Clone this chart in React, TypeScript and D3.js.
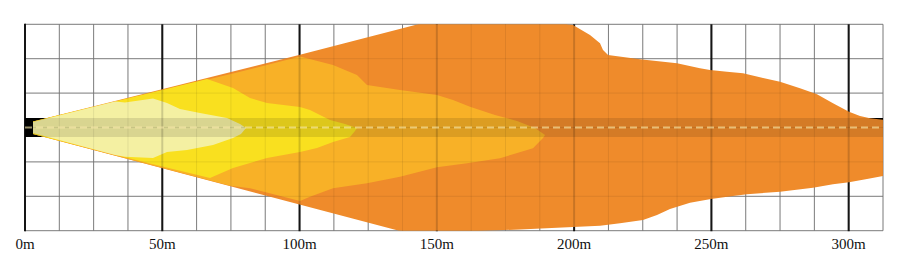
import React from "react";
import * as d3 from "d3";

// ---- data (metres: [distance, lateral]) ----
const distanceTicks = [0, 50, 100, 150, 200, 250, 300];
const tickLabels = ["0m", "50m", "100m", "150m", "200m", "250m", "300m"];
const xMax = 312.5;
const yHalf = 37.5;
const gridStep = 12.5;
const roadHalfWidth = 3.45;

const orangeOutline: [number, number][] = [
  [2.91, 2.18], [100.16, 26.44], [143.14, 37.5], [150, 39.5], [195, 39.5], [197.41, 37.5],
  [199.59, 37.25], [205.78, 33.61], [209.43, 30.6], [210.52, 28.16], [212.35, 26.34],
  [224.0, 24.78], [237.47, 23.33], [245.85, 21.51], [249.49, 20.89], [255.68, 20.28],
  [261.51, 19.69], [267.7, 18.24], [274.99, 16.64], [282.27, 14.24], [288.46, 12.06],
  [294.29, 8.79], [300.12, 5.74], [304.12, 4.18], [307.77, 3.34], [314, 2.6],
  [314, -17.3], [306.67, -18.71], [300.12, -19.91], [294.29, -20.64], [287.0, -21.88],
  [274.99, -23.33], [262.96, -24.27], [257.87, -24.89], [249.85, -25.98], [242.21, -27.33],
  [234.92, -29.61], [230.19, -31.8], [225.09, -33.61], [216.71, -34.81], [209.43, -35.68],
  [199.59, -36.16], [180.29, -37.06], [165, -37.6], [150, -38.5], [136.2, -37.5],
  [2.91, -2.36],
];

const lightOrangeOutline: [number, number][] = [
  [2.91, 2.18], [77.21, 19.99], [100.16, 25.8], [112.18, 22.71], [120.92, 19.08],
  [124.56, 15.44], [136.58, 13.63], [150.06, 11.81], [155.89, 9.99], [162.08, 7.56],
  [171.18, 4.54], [179.2, 2.36], [185.75, -0.18], [189.4, -2.73], [188.67, -3.82],
  [185.02, -7.56], [173.0, -11.19], [160.98, -13.01], [150.06, -14.46], [136.58, -17.88],
  [124.56, -20.28], [112.18, -22.09], [103.8, -25.15], [100.16, -26.71], [81.95, -22.09],
  [74.67, -21.2], [2.91, -2.36],
];

const yellowOutline: [number, number][] = [
  [2.91, 2.18], [66.29, 17.6], [75.76, 14.35], [81.95, 10.72], [88.14, 8.9],
  [100.16, 7.45], [103.8, 6.36], [107.44, 4.54], [111.09, 2.73], [116.55, 1.27],
  [120.92, -0.18], [120.19, -1.27], [118.37, -3.45], [112.18, -5.27], [106.35, -7.45],
  [100.16, -8.9], [88.14, -11.08], [75.76, -14.72], [67.38, -18.35], [46.62, -13.34],
  [2.91, -2.36],
];

const paleOutline: [number, number][] = [
  [2.91, 2.0], [32.78, 9.45], [36.42, 9.08], [46.62, 10.54], [51.72, 8.9],
  [56.45, 6.72], [63.74, 5.27], [73.57, 3.45], [78.31, 1.27], [80.49, -0.18],
  [78.67, -2.36], [75.76, -3.82], [68.47, -6.36], [59.0, -8.18], [51.72, -8.9],
  [46.62, -11.08], [36.42, -10.61], [32.78, -10.0], [2.91, -2.0],
];

const layers = [
  { key: "orange", pts: orangeOutline, color: "#ef8b2b" },
  { key: "lightOrange", pts: lightOrangeOutline, color: "#f8b127" },
  { key: "yellow", pts: yellowOutline, color: "#f9e01f" },
  { key: "pale", pts: paleOutline, color: "#f4f0a2" },
];

export default function App() {
  const x = d3.scaleLinear().domain([0, xMax]).range([25, 883]);
  const y = d3.scaleLinear().domain([-yHalf, yHalf]).range([230.7, 24.3]);
  const line = d3
    .line<[number, number]>()
    .x((d) => x(d[0]))
    .y((d) => y(d[1]))
    .curve(d3.curveLinearClosed);

  const gridXs = d3.range(0, xMax + 0.01, gridStep);
  const gridYs = d3.range(-yHalf, yHalf + 0.01, gridStep);
  const isMajor = (v: number) => Math.abs(v % 50) < 1e-6 && v < xMax - 1;

  const x0 = x(0), x1 = x(xMax), yTop = y(yHalf), yBot = y(-yHalf);
  const bandTop = y(roadHalfWidth), bandBot = y(-roadHalfWidth);

  const grid = (overlay: boolean) => (
    <g>
      {gridYs.map((v) => (
        <line key={"h" + v} x1={x0} x2={x1} y1={y(v)} y2={y(v)}
          stroke={overlay ? "rgba(0,0,0,0.08)" : "#888"} strokeWidth={1} />
      ))}
      {gridXs.filter((v) => !isMajor(v)).map((v) => (
        <line key={"v" + v} x1={x(v)} x2={x(v)} y1={yTop} y2={yBot}
          stroke={overlay ? "rgba(0,0,0,0.08)" : "#888"} strokeWidth={1} />
      ))}
      {gridXs.filter((v) => isMajor(v)).map((v) => (
        <line key={"m" + v} x1={x(v)} x2={x(v)} y1={yTop - (v === 0 ? 0.5 : 0)} y2={yBot + 0.5}
          stroke={overlay ? "rgba(0,0,0,0.16)" : "#1a1a1a"} strokeWidth={2} />
      ))}
    </g>
  );

  return (
    <svg width={907} height={270} style={{ position: "absolute", left: 0, top: 0 }}>
      <defs>
        <clipPath id="plot">
          <rect x={x0} y={yTop} width={x1 - x0} height={yBot - yTop} />
        </clipPath>
      </defs>
      <rect x={0} y={0} width={907} height={270} fill="#fff" />
      {grid(false)}
      <rect x={x0} y={bandTop} width={x1 - x0} height={bandBot - bandTop} fill="#000" />
      <g clipPath="url(#plot)">
        {layers.map((l) => (
          <path key={l.key} d={line(l.pts) || ""} fill={l.color} />
        ))}
      </g>
      <rect x={x0} y={bandTop} width={x1 - x0} height={bandBot - bandTop} fill="rgba(0,0,0,0.11)" />
      {grid(true)}
      <line x1={x0} x2={x1} y1={y(0)} y2={y(0)} stroke="rgba(255,240,175,0.6)"
        strokeWidth={2} strokeDasharray="7 4" />
      {distanceTicks.map((t, i) => (
        <text key={t} x={x(t)} y={249} textAnchor="middle"
          style={{ fontFamily: "'Liberation Serif', 'DejaVu Serif', serif", fontSize: "15px" }}
          fill="#111">
          {tickLabels[i]}
        </text>
      ))}
    </svg>
  );
}
